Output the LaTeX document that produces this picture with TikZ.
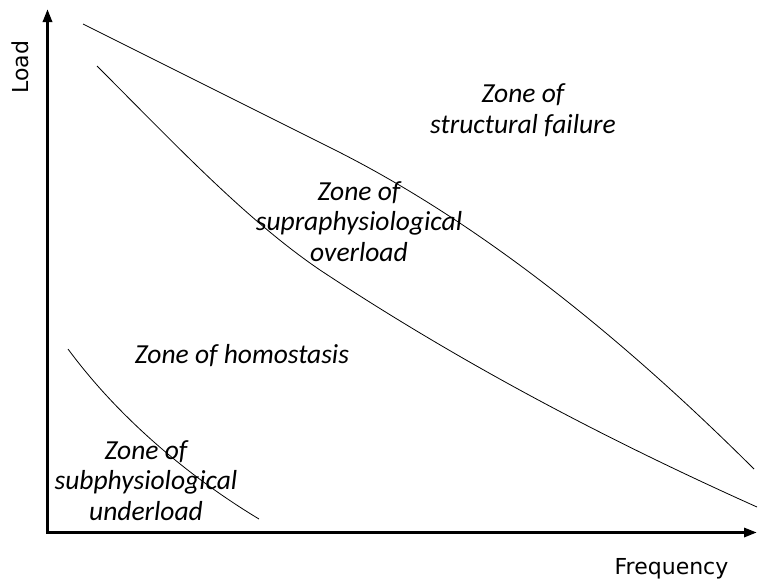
\documentclass[tikz,border=0pt]{standalone}
\usepackage{fontspec}
\newfontfamily\zonefont{Carlito}
\newfontfamily\axisfont{DejaVu Sans}
\usetikzlibrary{arrows.meta}
\begin{document}
\begin{tikzpicture}[x=1pt,y=-1pt,
  axisline/.style={line width=3pt, line join=miter,
    {Triangle[length=13pt,width=9pt]}-{Triangle[length=13pt,width=9pt]}},
  curveline/.style={line width=0.8pt},
  zonelabel/.style={align=center, inner sep=0pt, anchor=base,
    font=\zonefont\itshape\fontsize{27.5}{30.5}\selectfont},
  axislabel/.style={inner sep=0pt, font=\axisfont\fontsize{22}{26}\selectfont}]
\useasboundingbox (0,0) rectangle (758,581);
% axes
\coordinate (O) at (47.5,532.5);
\coordinate (ytip) at (47.5,9);
\coordinate (xtip) at (757,532.5);
\draw[axisline] (ytip) -- (O) -- (xtip);
\node[axislabel, rotate=90, anchor=center] (ylab) at (20,67) {Load};
\node[axislabel, anchor=base] (xlab) at (671.5,574) {Frequency};
% curves
\coordinate (a0) at (83,24);
\coordinate (a1) at (333,149);
\coordinate (a2) at (754,469);
\draw[curveline] (a0) -- (a1) .. controls (466.7,215.9) and (607,322.5) .. (a2);
\coordinate (b0) at (97,66);
\coordinate (b1) at (320,270);
\coordinate (b2) at (757,507);
\draw[curveline] (b0) .. controls (172,141) and (245,219) .. (b1)
  .. controls (465,366) and (612,442) .. (b2);
\coordinate (c0) at (68,349);
\coordinate (c1) at (259,519);
\draw[curveline] (c0) .. controls (124,425) and (199,483) .. (c1);
% zone labels
\node[zonelabel] (fail) at (523,133) {Zone of\\structural failure};
\node[zonelabel] (over) at (359,261) {Zone of\\supraphysiological\\overload};
\node[zonelabel] (homo) at (242,363) {Zone of homostasis};
\node[zonelabel] (under) at (146,520) {Zone of\\subphysiological\\underload};
\end{tikzpicture}
\end{document}
